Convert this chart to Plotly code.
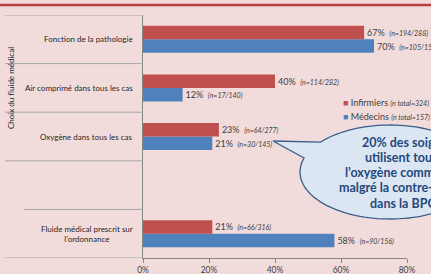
import numpy as np
import plotly.graph_objects as go

# ---- data ----
categories = ["Fonction de la pathologie", "Air comprimé dans tous les cas",
              "Oxygène dans tous les cas", "Fluide médical prescrit sur<br>l'ordonnance"]
cat_pos = [4, 3, 2, 0]          # 4th band (position 1) is empty in the original
infirmiers = [0.67, 0.40, 0.23, 0.21]
infirmiers_n = ["194/288", "114/282", "64/277", "66/316"]
medecins = [0.70, 0.12, 0.21, 0.58]
medecins_n = ["105/150", "17/140", "30/145", "90/156"]
x_ticks = [0, 0.2, 0.4, 0.6, 0.8]
x_ticklabels = ["0%", "20%", "40%", "60%", "80%"]
legend_names = ["Infirmiers", "Médecins"]
legend_totals = ["324", "157"]
callout_lines = ["20% des soignants", "utilisent toujours", "l’oxygène comme gaz",
                 "malgré la contre-indication", "dans la BPCO"]

# ---- layout geometry (pixels) ----
FW, FH = 431, 274
L, R, T, B = 143, 24, 15, 16
W = FW - L - R
H = FH - T - B


def px(x):
    return (x - L) / W


def py(y):
    return (FH - B - y) / H


RED = "#C0504D"
BLUE = "#4F81BD"
BG = "#F2DCDB"
TXT = "#404040"
FONT = "Lato"


def label(v, n):
    return f"{round(v*100)}%  <i><span style='font-size:7px'>(n={n})</span></i>"


fig = go.Figure()
fig.add_trace(go.Bar(
    y=cat_pos, x=medecins, orientation="h", name="Médecins",
    marker=dict(color=BLUE, line=dict(width=0)),
    text=[label(v, n) for v, n in zip(medecins, medecins_n)],
    textposition="outside", cliponaxis=False, constraintext="none",
    textfont=dict(size=9, color=TXT, family=FONT)))
fig.add_trace(go.Bar(
    y=cat_pos, x=infirmiers, orientation="h", name="Infirmiers",
    marker=dict(color=RED, line=dict(width=0)),
    text=[label(v, n) for v, n in zip(infirmiers, infirmiers_n)],
    textposition="outside", cliponaxis=False, constraintext="none",
    textfont=dict(size=9, color=TXT, family=FONT)))

shapes = []
annotations = []

# category separator lines (left of the axis)
for yb, x0 in [(4.5, 5), (3.5, 5), (2.5, 5), (1.5, 5), (0.5, 24), (-0.5, 5)]:
    shapes.append(dict(type="line", xref="paper", yref="y", x0=px(x0), x1=0,
                       y0=yb, y1=yb, line=dict(color="#A6A6A6", width=1)))

# top decorative red rule
shapes.append(dict(type="line", xref="paper", yref="paper", x0=px(0), x1=px(FW),
                   y0=py(5), y1=py(5), line=dict(color="#B5403E", width=2.5)))

# category labels
for c, p in zip(categories, cat_pos):
    annotations.append(dict(text=c, xref="paper", yref="y", x=px(135), y=p,
                            xanchor="right", yanchor="middle", align="center",
                            showarrow=False, font=dict(size=8, color="#262626", family=FONT)))

# y-axis title
annotations.append(dict(text="Choix du fluide médical", xref="paper", yref="paper",
                        x=px(11), y=py(88), textangle=-90, showarrow=False,
                        xanchor="center", yanchor="middle",
                        font=dict(size=8, color="#262626", family=FONT)))

# legend (manual, small swatches)
for name, tot, col, yy in zip(legend_names, legend_totals, [RED, BLUE], [102, 116]):
    annotations.append(dict(
        text=f"<span style='color:{col}'>■</span> {name} <i><span style='font-size:7px'>(n total={tot})</span></i>",
        xref="paper", yref="paper", x=px(341), y=py(yy), xanchor="left", yanchor="middle",
        showarrow=False, font=dict(size=9, color=TXT, family=FONT)))

# callout bubble
cx, cy, rx, ry = 390, 172, 90, 47
t1 = np.deg2rad(219.6)
t2 = np.deg2rad(197.3 + 360)
ts = np.linspace(t1, t2, 120)
ex = cx + rx * np.cos(ts)
ey = cy + ry * np.sin(ts)
tip = (273, 141)
path = f"M {px(tip[0])},{py(tip[1])} " + " ".join(
    f"L {px(a)},{py(b)}" for a, b in zip(ex, ey)) + " Z"
shapes.append(dict(type="path", xref="paper", yref="paper", path=path,
                   fillcolor="#DCE6F2", line=dict(color="#385D8A", width=1.3)))

for txt, xs, ys in zip(callout_lines, [360, 363, 343, 337, 368], [142, 157, 172, 187, 203]):
    annotations.append(dict(text=f"<b>{txt}</b>", xref="paper", yref="paper",
                            x=px(xs), y=py(ys), xanchor="left", yanchor="middle",
                            showarrow=False, font=dict(size=12.5, color="#1F497D", family=FONT)))

fig.update_layout(
    width=FW, height=FH,
    margin=dict(l=L, r=R, t=T, b=B, autoexpand=False),
    paper_bgcolor=BG, plot_bgcolor=BG,
    barmode="group", bargap=0.444, bargroupgap=0,
    showlegend=False,
    shapes=shapes, annotations=annotations,
    font=dict(family=FONT, color=TXT),
    xaxis=dict(range=[0, 0.8], tickvals=x_ticks, ticktext=x_ticklabels,
               showgrid=False, zeroline=False, showline=True, linecolor="#868686",
               linewidth=1, ticks="outside", ticklen=4, tickcolor="#868686",
               tickfont=dict(size=8.5, color=TXT, family=FONT), automargin=False),
    yaxis=dict(range=[-0.5, 4.5], showticklabels=False, showgrid=False, zeroline=False,
               showline=True, linecolor="#868686", linewidth=1, ticks="",
               automargin=False),
)

fig.write_html("out.html", config={"displayModeBar": False},
               post_script="document.body.style.margin='0';document.body.style.overflow='hidden';")
